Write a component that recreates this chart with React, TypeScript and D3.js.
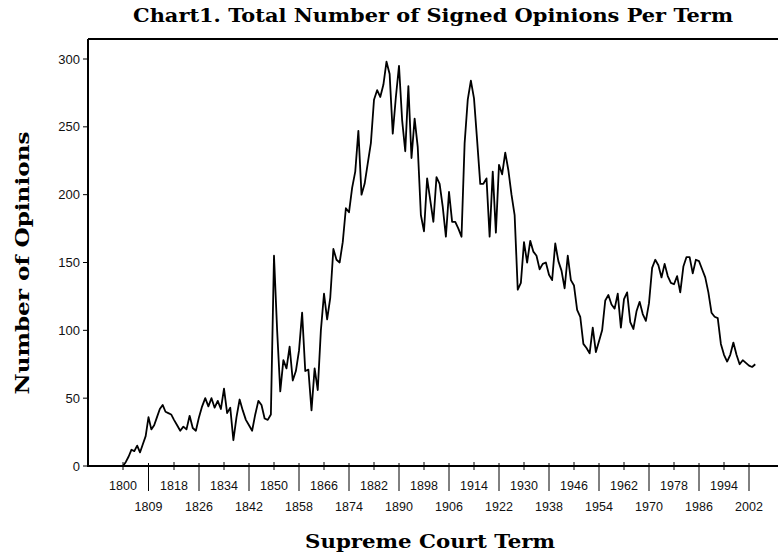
import React from "react";
import * as d3 from "d3";

const years: number[] = d3.range(1800, 2005);
const opinions: number[] = [
  0, 3, 7, 12, 11, 15, 10, 16, 22, 36,
  27, 30, 36, 42, 45, 40, 39, 38, 34, 30,
  26, 29, 27, 37, 28, 26, 36, 44, 50, 44,
  50, 43, 48, 42, 57, 39, 43, 19, 36, 49,
  41, 34, 30, 26, 38, 48, 45, 35, 34, 38,
  155, 100, 55, 78, 72, 88, 63, 70, 85, 113,
  70, 71, 41, 72, 56, 100, 127, 108, 124, 160,
  152, 150, 165, 190, 187, 205, 217, 247, 200, 208,
  223, 238, 270, 277, 272, 281, 298, 289, 245, 272,
  295, 255, 232, 280, 227, 256, 235, 185, 173, 212,
  196, 180, 213, 208, 191, 169, 202, 180, 180, 175,
  169, 238, 270, 284, 271, 240, 208, 208, 212, 169,
  217, 172, 222, 215, 231, 218, 200, 185, 130, 135,
  165, 150, 166, 158, 155, 145, 149, 150, 141, 137,
  164, 151, 144, 131, 155, 137, 133, 115, 110, 90,
  87, 83, 102, 84, 92, 100, 122, 126, 119, 116,
  127, 102, 123, 128, 106, 101, 114, 121, 112, 107,
  120, 146, 152, 148, 139, 149, 140, 135, 134, 140,
  128, 147, 154, 154, 142, 152, 151, 145, 139, 128,
  113, 110, 109, 90, 82, 77, 82, 91, 82, 75,
  78, 76, 74, 73, 75,
];
const upperTicks: number[] = [1800, 1818, 1834, 1850, 1866, 1882, 1898, 1914, 1930, 1946, 1962, 1978, 1994];
const lowerTicks: number[] = [1809, 1826, 1842, 1858, 1874, 1890, 1906, 1922, 1938, 1954, 1970, 1986, 2002];
const yTicks: number[] = [0, 50, 100, 150, 200, 250, 300];

const W = 778;
const H = 555;
const left = 88;
const top = 39;
const bottom = 466;

export default function App() {
  const x = d3.scaleLinear().domain([1800, 1818, 2002]).range([123, 174, 749]);
  const y = d3.scaleLinear().domain([0, 300]).range([bottom, 59]);
  const line = d3
    .line<number>()
    .x((_, i) => x(years[i]))
    .y((d) => y(d));
  const sans = "'Liberation Sans', Arial, sans-serif";
  const serif = "'DejaVu Serif', serif";
  return (
    <svg width={W} height={H} style={{ position: "absolute", left: 0, top: 0, background: "#fff" }}>
      <rect width={W} height={H} fill="#fff" />
      <text
        x={433}
        y={22}
        textAnchor="middle"
        fontFamily={serif}
        fontWeight="bold"
        fontSize={18}
        textLength={600}
        lengthAdjust="spacingAndGlyphs"
        fill="#000"
      >
        Chart1. Total Number of Signed Opinions Per Term
      </text>
      <line x1={left} x2={W} y1={top} y2={top} stroke="#000" strokeWidth={2} />
      <line x1={left} x2={left} y1={top} y2={bottom + 1} stroke="#000" strokeWidth={2} />
      <line x1={left} x2={W} y1={bottom} y2={bottom} stroke="#000" strokeWidth={2} />
      {yTicks.map((t) => (
        <g key={t}>
          <line x1={83} x2={left} y1={y(t)} y2={y(t)} stroke="#000" strokeWidth={1} />
          <text x={80} y={y(t) + 4.5} textAnchor="end" fontFamily={sans} fontSize={13} fill="#111">
            {t}
          </text>
        </g>
      ))}
      {upperTicks.map((t) => (
        <g key={t}>
          <line x1={x(t)} x2={x(t)} y1={462} y2={470} stroke="#000" strokeWidth={1} />
          <text x={x(t)} y={490} textAnchor="middle" fontFamily={sans} fontSize={12.5} fill="#111">
            {t}
          </text>
        </g>
      ))}
      {lowerTicks.map((t) => (
        <g key={t}>
          <line x1={x(t)} x2={x(t)} y1={463} y2={491} stroke="#000" strokeWidth={1} />
          <text x={x(t)} y={511} textAnchor="middle" fontFamily={sans} fontSize={12.5} fill="#111">
            {t}
          </text>
        </g>
      ))}
      <path d={line(opinions) ?? ""} fill="none" stroke="#000" strokeWidth={1.8} strokeLinejoin="round" />
      <text
        transform={`translate(29,263) rotate(-90)`}
        textAnchor="middle"
        fontFamily={serif}
        fontWeight="bold"
        fontSize={18}
        textLength={263}
        lengthAdjust="spacingAndGlyphs"
        fill="#000"
      >
        Number of Opinions
      </text>
      <text
        x={430}
        y={548}
        textAnchor="middle"
        fontFamily={serif}
        fontWeight="bold"
        fontSize={18}
        textLength={250}
        lengthAdjust="spacingAndGlyphs"
        fill="#000"
      >
        Supreme Court Term
      </text>
    </svg>
  );
}
